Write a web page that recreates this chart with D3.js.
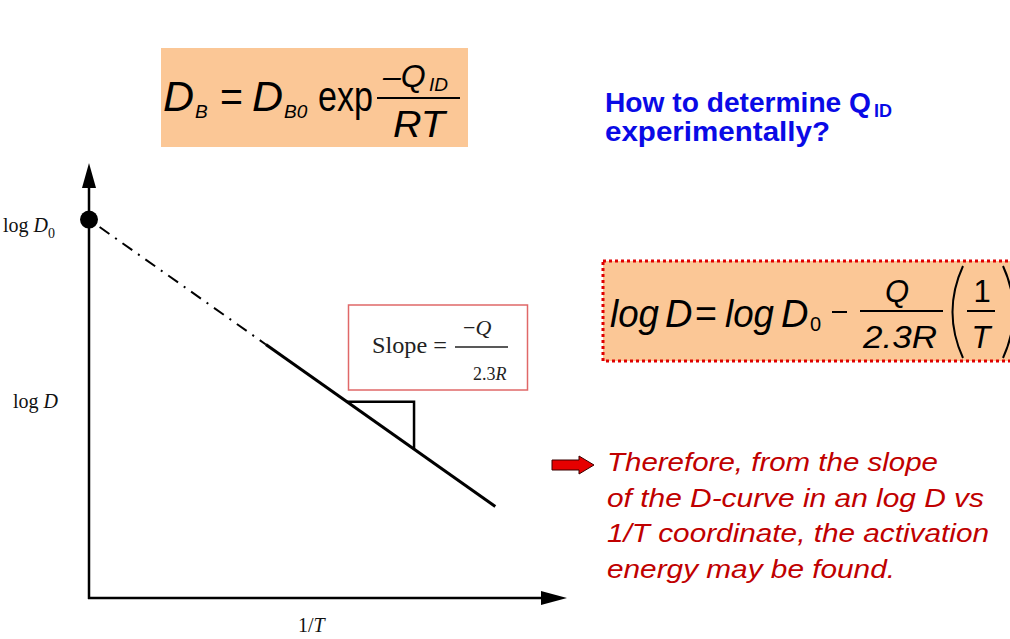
<!DOCTYPE html>
<html><head><meta charset="utf-8">
<script src="https://cdn.jsdelivr.net/npm/d3@7"></script>
<style>html,body{margin:0;padding:0;background:#fff;overflow:hidden}</style>
</head><body>
<svg id="c" width="1010" height="639"></svg>
<script>
// ---- data ----
const logD0 = 87;                 // intercept on the log D axis
const slope = -0.776;             // -Q/2.3R in axis units
const extrapolatedX = [0, 37];    // dash-dot part of the line (1/T)
const measuredX = [37, 85];       // solid part of the line (1/T)
const triangleX = [54, 68];       // slope triangle corners along 1/T
const axisMax = [100, 100];       // extent of 1/T axis and log D axis
const logDLevel = [44];           // where the "log D" label sits
const redLines = ["Therefore, from the slope", "of the D-curve in an log D vs", "1/T coordinate, the activation", "energy may be found."];
const redWidths = [331, 377, 382, 288];
const blueLines = ["How to determine Q", "experimentally?"];

const svg = d3.select("#c");
const x = d3.scaleLinear().domain([0, axisMax[0]]).range([89, 567]);
const y = d3.scaleLinear().domain([0, axisMax[1]]).range([598, 163]);
const f = v => logD0 + slope * v;
const SANS = "'Liberation Sans', Arial, sans-serif";
const SERIF = "'Liberation Serif', 'Times New Roman', serif";
const peach = "#fbc796";

// ---- top formula box ----
svg.append("rect").attr("x",161).attr("y",48).attr("width",307).attr("height",99).attr("fill",peach);
const t1 = svg.append("g").attr("font-family",SANS).attr("fill","#000");
t1.append("text").attr("x",163).attr("y",111).attr("font-size",43).attr("font-style","italic").text("D");
t1.append("text").attr("x",195).attr("y",118).attr("font-size",19).attr("font-style","italic").text("B");
t1.append("text").attr("x",220).attr("y",111).attr("font-size",43).attr("textLength",23).attr("lengthAdjust","spacingAndGlyphs").text("=");
t1.append("text").attr("x",252).attr("y",111).attr("font-size",43).attr("font-style","italic").text("D");
t1.append("text").attr("x",284).attr("y",118).attr("font-size",19).attr("font-style","italic").text("B0");
t1.append("text").attr("x",318).attr("y",111).attr("font-size",43).attr("textLength",55).attr("lengthAdjust","spacingAndGlyphs").text("exp");
t1.append("line").attr("x1",377).attr("x2",460).attr("y1",98).attr("y2",98).attr("stroke","#000").attr("stroke-width",2);
t1.append("text").attr("x",383).attr("y",87).attr("font-size",32).attr("font-style","italic").text("\u2013Q");
t1.append("text").attr("x",429).attr("y",91).attr("font-size",19).attr("font-style","italic").text("ID");
t1.append("text").attr("x",393).attr("y",137).attr("font-size",36).attr("font-style","italic").attr("textLength",52).attr("lengthAdjust","spacingAndGlyphs").text("RT");

// ---- blue question ----
const bq = svg.append("g").attr("font-family",SANS).attr("font-weight","bold").attr("fill","#0a0ae6");
bq.append("text").attr("x",605).attr("y",112).attr("font-size",28).attr("textLength",266).attr("lengthAdjust","spacingAndGlyphs").text(blueLines[0]);
bq.append("text").attr("x",874).attr("y",117).attr("font-size",18).text("ID");
bq.append("text").attr("x",605).attr("y",141).attr("font-size",28).attr("textLength",225).attr("lengthAdjust","spacingAndGlyphs").text(blueLines[1]);

// ---- second formula box ----
svg.append("rect").attr("x",603).attr("y",261).attr("width",430).attr("height",100).attr("fill",peach)
  .attr("stroke","#e00000").attr("stroke-width",3).attr("stroke-dasharray","3,3");
const t2 = svg.append("g").attr("font-family",SANS).attr("fill","#000");
t2.append("text").attr("x",610).attr("y",327).attr("font-size",38).attr("font-style","italic").attr("textLength",49).attr("lengthAdjust","spacingAndGlyphs").text("log");
t2.append("text").attr("x",665).attr("y",327).attr("font-size",38).attr("font-style","italic").text("D");
t2.append("text").attr("x",695).attr("y",327).attr("font-size",38).attr("textLength",22).attr("lengthAdjust","spacingAndGlyphs").text("=");
t2.append("text").attr("x",725).attr("y",327).attr("font-size",38).attr("font-style","italic").attr("textLength",49).attr("lengthAdjust","spacingAndGlyphs").text("log");
t2.append("text").attr("x",781).attr("y",327).attr("font-size",38).attr("font-style","italic").text("D");
t2.append("text").attr("x",810).attr("y",331).attr("font-size",20).text("0");
t2.append("line").attr("x1",832).attr("x2",847).attr("y1",312).attr("y2",312).attr("stroke","#000").attr("stroke-width",2);
t2.append("text").attr("x",897).attr("y",302).attr("font-size",31).attr("font-style","italic").attr("text-anchor","middle").text("Q");
t2.append("line").attr("x1",860).attr("x2",943).attr("y1",311).attr("y2",311).attr("stroke","#000").attr("stroke-width",2);
t2.append("text").attr("x",863).attr("y",348).attr("font-size",31).attr("font-style","italic").attr("textLength",74).attr("lengthAdjust","spacingAndGlyphs").text("2.3R");
t2.append("path").attr("d","M963,266 Q942,312 963,358").attr("fill","none").attr("stroke","#000").attr("stroke-width",2);
t2.append("text").attr("x",982).attr("y",302).attr("font-size",31).attr("text-anchor","middle").text("1");
t2.append("line").attr("x1",967).attr("x2",995).attr("y1",311).attr("y2",311).attr("stroke","#000").attr("stroke-width",2);
t2.append("text").attr("x",981).attr("y",348).attr("font-size",31).attr("font-style","italic").attr("text-anchor","middle").text("T");
t2.append("path").attr("d","M1003,266 Q1024,312 1003,358").attr("fill","none").attr("stroke","#000").attr("stroke-width",2);

// ---- axes ----
const ax = svg.append("g");
ax.append("line").attr("x1",x(0)).attr("x2",x(0)).attr("y1",y(0)+1).attr("y2",y(axisMax[1])+22).attr("stroke","#000").attr("stroke-width",2.5);
ax.append("path").attr("d",`M${x(0)},${y(axisMax[1])} L${x(0)-7},${y(axisMax[1])+25} L${x(0)+7},${y(axisMax[1])+25} Z`).attr("fill","#000");
ax.append("line").attr("x1",x(0)-1).attr("x2",x(axisMax[0])-22).attr("y1",y(0)).attr("y2",y(0)).attr("stroke","#000").attr("stroke-width",2.5);
ax.append("path").attr("d",`M${x(axisMax[0])},${y(0)} L${x(axisMax[0])-26},${y(0)-7} L${x(axisMax[0])-26},${y(0)+7} Z`).attr("fill","#000");

// axis labels
const lab = svg.append("g").attr("font-family",SERIF).attr("font-size",20).attr("fill","#111");
const l0 = lab.append("text").attr("x",3).attr("y",y(logD0)+12);
l0.append("tspan").text("log ");
l0.append("tspan").attr("font-style","italic").text("D");
l0.append("tspan").attr("font-size",14).attr("dy",6).text("0");
const l1 = lab.append("text").attr("x",13).attr("y",y(logDLevel[0])+1);
l1.append("tspan").text("log ");
l1.append("tspan").attr("font-style","italic").text("D");
const l2 = lab.append("text").attr("x",298).attr("y",632);
l2.append("tspan").text("1/");
l2.append("tspan").attr("font-style","italic").text("T");

// ---- lines ----
const line = d3.line().x(d => x(d)).y(d => y(f(d)));
svg.append("path").attr("d",line(extrapolatedX)).attr("fill","none").attr("stroke","#000")
  .attr("stroke-width",2).attr("stroke-dasharray","2,7,12,7").attr("stroke-dashoffset",-4);
svg.append("path").attr("d",line(measuredX)).attr("fill","none").attr("stroke","#000").attr("stroke-width",3);
svg.append("circle").attr("cx",x(0)).attr("cy",y(logD0)).attr("r",9).attr("fill","#000");

// slope triangle
const tri = [[triangleX[0], f(triangleX[0])], [triangleX[1], f(triangleX[0])], [triangleX[1], f(triangleX[1])]];
svg.append("path").attr("d",d3.line().x(d=>x(d[0])).y(d=>y(d[1]))(tri)).attr("fill","none").attr("stroke","#000").attr("stroke-width",2.5);

// slope box
svg.append("rect").attr("x",348.5).attr("y",305).attr("width",179).attr("height",85).attr("fill","#fff").attr("stroke","#e06868").attr("stroke-width",1.5);
const sb = svg.append("g").attr("font-family",SERIF).attr("fill","#222");
sb.append("text").attr("x",372).attr("y",353).attr("font-size",23).attr("textLength",75).attr("lengthAdjust","spacingAndGlyphs").text("Slope =");
const nq = sb.append("text").attr("x",463).attr("y",335).attr("font-size",22);
nq.append("tspan").text("\u2212");
nq.append("tspan").attr("font-style","italic").text("Q");
sb.append("line").attr("x1",455).attr("x2",508).attr("y1",347).attr("y2",347).attr("stroke","#222").attr("stroke-width",1.5);
const dq = sb.append("text").attr("x",473).attr("y",380).attr("font-size",18);
dq.append("tspan").text("2.3");
dq.append("tspan").attr("font-style","italic").text("R");

// ---- red arrow and text ----
svg.append("path").attr("d","M552,460 L579,460 L579,456 L594,465 L579,474 L579,470 L552,470 Z")
  .attr("fill","#e60000").attr("stroke","#3a0000").attr("stroke-width",1);
const rt = svg.append("g").attr("font-family",SANS).attr("font-style","italic").attr("font-size",26).attr("fill","#c00000");
rt.selectAll("text").data(redLines).join("text")
  .attr("x",607).attr("y",(d,i)=>471 + i*35.5)
  .attr("textLength",(d,i)=>redWidths[i]).attr("lengthAdjust","spacingAndGlyphs")
  .text(d=>d);
</script>
</body></html>
